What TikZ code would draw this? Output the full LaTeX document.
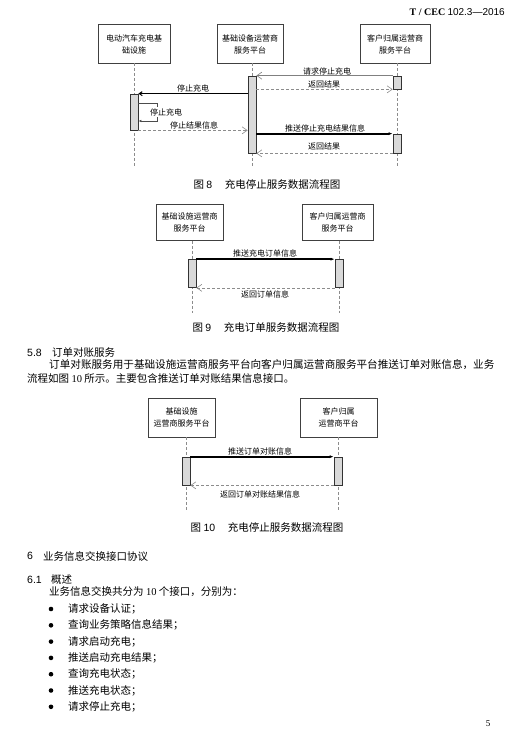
\documentclass[tikz,border=0pt]{standalone}
\usepackage{fontspec}
\setmainfont{Noto Sans CJK SC}
\newfontfamily\tnr{Liberation Serif}
\newfontfamily\ari{Liberation Sans}
\usetikzlibrary{arrows.meta}
\begin{document}
\begin{tikzpicture}[x=1pt,y=-1pt,
 actor/.style={draw=black!75,line width=0.8pt,fill=white,inner sep=0pt,align=center,minimum height=39pt,font=\fontsize{8}{12}\selectfont},
 life/.style={draw=black!45,dash pattern=on 3pt off 2pt,line width=0.5pt},
 bar/.style={draw=black!80,fill=black!15,line width=0.7pt,inner sep=0pt,minimum width=8pt},
 msg/.style={font=\fontsize{8}{10}\selectfont,inner sep=0pt},
 call/.style={draw=black,line width=1pt,-{Straight Barb[length=3pt,width=4pt]}},
 selfmsg/.style={draw=black!70,line width=0.6pt,-{Latex[length=3pt,width=2.5pt]}},
 push/.style={draw=black,line width=1.8pt,-{Latex[length=4pt,width=3pt]}},
 req/.style={draw=black!50,line width=0.6pt,-{Straight Barb[length=5pt,width=7pt]}},
 ret/.style={draw=black!45,line width=0.6pt,dash pattern=on 3pt off 2pt,-{Straight Barb[length=5pt,width=7pt]}},
 body/.style={font=\fontsize{10.5}{12}\selectfont,inner sep=0pt,anchor=west},
 capt/.style={font=\fontsize{10.5}{12}\selectfont,inner sep=0pt},
]
\useasboundingbox (0,0) rectangle (530,730);

% header
\node[inner sep=0pt,anchor=east,font=\fontsize{10}{12}\selectfont] (hdr) at (505,12) {{\tnr\bfseries T / CEC} {\ari 102.3—2016}};

% ================= Figure 8 =================
\node[actor,minimum width=72pt] (a1) at (134,44) {电动汽车充电基\\础设施};
\node[actor,minimum width=66pt] (a2) at (250,44) {基础设备运营商\\服务平台};
\node[actor,minimum width=70pt] (a3) at (395,44) {客户归属运营商\\服务平台};
\coordinate (l1t) at (134,63); \coordinate (l1b) at (134,167);
\coordinate (l2t) at (252,63); \coordinate (l2b) at (252,167);
\coordinate (l3t) at (397,63); \coordinate (l3b) at (397,167);
\draw[life] (l1t) -- (l1b);
\draw[life] (l2t) -- (l2b);
\draw[life] (l3t) -- (l3b);
\node[bar,minimum height=77pt] (b2) at (252,114.5) {};
\node[bar,minimum height=13pt] (b3u) at (397,82.5) {};
\node[bar,minimum height=19pt] (b3l) at (397,143.5) {};
\node[bar,minimum height=36pt] (b1) at (134,112) {};

\draw[req] (b3u.north west) -- (b2.north east);
\node[msg] (m1) at (327,71) {请求停止充电};
\draw[ret] (b2.east |- b3u.south) -- (b3u.south west);
\node[msg] (m2) at (324,84.5) {返回结果};
\draw[call] (b2.west |- b1.north) -- (b1.north east);
\node[msg] (m3) at (193,88) {停止充电};
\coordinate (s1) at (157,103); \coordinate (s2) at (157,121);
\draw[selfmsg] (b1.east |- s1) -- (s1) -- (s2) -- (b1.east |- s2);
\node[msg,fill=white,inner sep=1pt] (m4) at (166,112) {停止充电};
\draw[ret] (b1.south east) -- (b2.west |- b1.south);
\node[msg] (m5) at (194,125) {停止结果信息};
\draw[push] (b2.east |- b3l.north) -- (b3l.north west);
\node[msg] (m6) at (325,128) {推送停止充电结果信息};
\draw[ret] (b3l.south west) -- (b2.south east);
\node[msg] (m7) at (324,146.5) {返回结果};
\node[capt] (c8) at (267,184) {图~{\ari 8}\hspace{1.2em}充电停止服务数据流程图};

% ================= Figure 9 =================
\node[actor,minimum width=67pt,minimum height=36pt] (f9a) at (189.5,222.5) {基础设施运营商\\服务平台};
\node[actor,minimum width=71pt,minimum height=36pt] (f9b) at (337.5,222.5) {客户归属运营商\\服务平台};
\coordinate (l4t) at (192,240.5); \coordinate (l4b) at (192,313);
\coordinate (l5t) at (339,240.5); \coordinate (l5b) at (339,313);
\draw[life] (l4t) -- (l4b);
\draw[life] (l5t) -- (l5b);
\node[bar,minimum height=28pt] (b4) at (192,273.5) {};
\node[bar,minimum height=28pt] (b5) at (339,273.5) {};
\draw[push] (b4.north east) -- (b5.north west);
\node[msg] (m8) at (265,253.5) {推送充电订单信息};
\draw[ret] (b5.south west) -- (b4.south east);
\node[msg] (m9) at (265,294) {返回订单信息};
\node[capt] (c9) at (266,328) {图~{\ari 9}\hspace{1.2em}充电订单服务数据流程图};

% ================= Section 5.8 =================
\node[body,font=\fontsize{10.5}{12}\selectfont\ari] (h58n) at (27,353) {5.8};
\node[body] (h58) at (52,353) {订单对账服务};
\node[body,font=\fontsize{10.6}{12}\selectfont] (p1) at (49,365) {订单对账服务用于基础设施运营商服务平台向客户归属运营商服务平台推送订单对账信息，业务};
\node[body] (p2) at (27,378) {流程如图 {\tnr 10} 所示。主要包含推送订单对账结果信息接口。};

% ================= Figure 10 =================
\node[actor,minimum width=67pt] (f10a) at (181.5,417.5) {基础设施\\运营商服务平台};
\node[actor,minimum width=77pt] (f10b) at (338.5,417.5) {客户归属\\运营商平台};
\coordinate (l6t) at (186,437); \coordinate (l6b) at (186,510);
\coordinate (l7t) at (338,437); \coordinate (l7b) at (338,510);
\draw[life] (l6t) -- (l6b);
\draw[life] (l7t) -- (l7b);
\node[bar,minimum height=28pt] (b6) at (186,471) {};
\node[bar,minimum height=28pt] (b7) at (338,471) {};
\draw[push] (b6.north east) -- (b7.north west);
\node[msg] (m10) at (260,451) {推送订单对账信息};
\draw[ret] (b7.south west) -- (b6.south east);
\node[msg] (m11) at (260,494.5) {返回订单对账结果信息};
\node[capt] (c10) at (267,527) {图~{\ari 10}\hspace{1.2em}充电停止服务数据流程图};

% ================= Section 6 =================
\node[body,font=\fontsize{10.5}{12}\selectfont\ari] (h6n) at (27,556) {6};
\node[body] (h6) at (43,556) {业务信息交换接口协议};
\node[body,font=\fontsize{10.5}{12}\selectfont\ari] (h61n) at (27,580) {6.1};
\node[body] (h61) at (51,580) {概述};
\node[body] (p3) at (49,592) {业务信息交换共分为 {\tnr 10} 个接口，分别为：};
\foreach \t [count=\i] in {请求设备认证；,查询业务策略信息结果；,请求启动充电；,推送启动充电结果；,查询充电状态；,推送充电状态；,请求停止充电；}{
  \pgfmathsetmacro{\yy}{609+(\i-1)*16.3}
  \fill (51,\yy) circle (2.3pt);
  \node[body] (it\i) at (68,\yy) {\t};
}
\node[inner sep=0pt,font=\fontsize{9}{10}\selectfont\tnr] (pg) at (488,724) {5};
\end{tikzpicture}
\end{document}
